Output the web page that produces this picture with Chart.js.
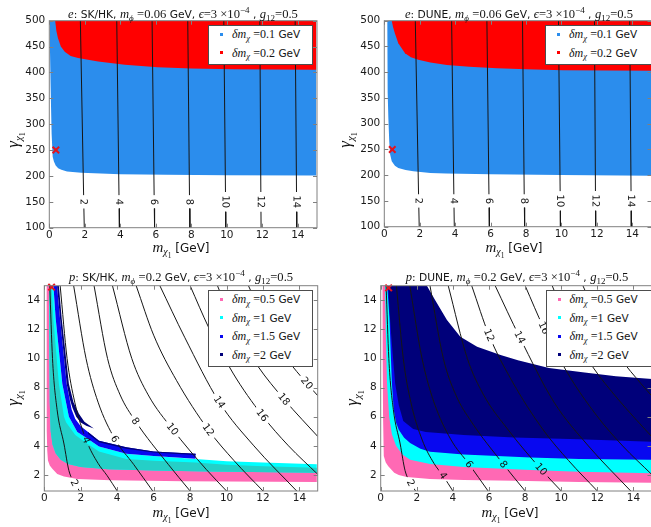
<!DOCTYPE html>
<html>
<head>
<meta charset="utf-8">
<title>Boosted DM regions</title>
<script src="https://cdn.jsdelivr.net/npm/chart.js@4.4.1/dist/chart.umd.min.js"></script>
<style>
html,body{margin:0;padding:0;background:#fff}
body{position:relative;width:651px;height:527px;overflow:hidden;font-family:"DejaVu Sans",sans-serif;color:#141414}
canvas{position:absolute;z-index:1}
.ov{position:absolute;z-index:2;white-space:nowrap}
.ttl{text-align:center;font-size:10.7px;line-height:14px}
.mi{font-family:"Liberation Serif","DejaVu Serif",serif;font-style:italic;font-size:12.6px}
.mr{font-family:"Liberation Serif","DejaVu Serif",serif;font-size:12.6px}
.sb{font-size:9px;position:relative;top:3px}
.sp{font-size:9px;position:relative;top:-5px}
.ss{font-size:7.5px;position:relative;top:5.5px}
.lg{background:#fff;border:1px solid #4d4d4d;box-sizing:border-box}
.li{position:absolute;left:23px;height:16px;line-height:16px;font-size:10.5px;white-space:nowrap}
.li .mi,.li .mr{font-size:12px}
.li .sb{font-size:8.5px;top:2.5px}
.mk{position:absolute;left:11px;width:3px;height:3px}
.xt{font-size:12px;line-height:16px;transform:translateX(-50%)}
.xt .mi{font-size:15px}
.xt .sb{font-size:10px}
.yt{font-size:12px;line-height:18px;transform:translate(-50%,-50%) rotate(-90deg)}
.yt .mi{font-size:17px}
.yt .sb{font-size:11px;top:3.5px}
.yt .ss{font-size:8px;top:6.5px}
</style>
</head>
<body>
<canvas id="cTL" width="330" height="262" style="left:0px;top:0px"></canvas>
<canvas id="cTR" width="340" height="262" style="left:330px;top:0px"></canvas>
<canvas id="cBL" width="330" height="262" style="left:0px;top:265px"></canvas>
<canvas id="cBR" width="340" height="262" style="left:330px;top:265px"></canvas>

<div class="ov ttl" style="left:49px;top:6.5px;width:268px"><span class="mi">e</span>: SK/HK, <span class="mi">m</span><span class="mi sb">ϕ</span> <span class="mr">=0.06</span> GeV, <span class="mi">ϵ</span><span class="mr">=3 ×10</span><span class="mr sp">−4</span> , <span class="mi">g</span><span class="mr sb">12</span><span class="mr">=0.5</span></div>
<div class="ov ttl" style="left:384px;top:6.5px;width:270px"><span class="mi">e</span>: DUNE, <span class="mi">m</span><span class="mi sb">ϕ</span> <span class="mr">=0.06</span> GeV, <span class="mi">ϵ</span><span class="mr">=3 ×10</span><span class="mr sp">−4</span> , <span class="mi">g</span><span class="mr sb">12</span><span class="mr">=0.5</span></div>
<div class="ov ttl" style="left:44px;top:270px;width:274px"><span class="mi">p</span>: SK/HK, <span class="mi">m</span><span class="mi sb">ϕ</span> <span class="mr">=0.2</span> GeV, <span class="mi">ϵ</span><span class="mr">=3 ×10</span><span class="mr sp">−4</span> , <span class="mi">g</span><span class="mr sb">12</span><span class="mr">=0.5</span></div>
<div class="ov ttl" style="left:381px;top:270px;width:272px"><span class="mi">p</span>: DUNE, <span class="mi">m</span><span class="mi sb">ϕ</span> <span class="mr">=0.2</span> GeV, <span class="mi">ϵ</span><span class="mr">=3 ×10</span><span class="mr sp">−4</span> , <span class="mi">g</span><span class="mr sb">12</span><span class="mr">=0.5</span></div>

<div class="ov xt" style="left:181px;top:239px"><span class="mi">m</span><span class="mi sb">χ</span><span class="mr ss">1</span> [GeV]</div>
<div class="ov xt" style="left:514px;top:239px"><span class="mi">m</span><span class="mi sb">χ</span><span class="mr ss">1</span> [GeV]</div>
<div class="ov xt" style="left:181px;top:504px"><span class="mi">m</span><span class="mi sb">χ</span><span class="mr ss">1</span> [GeV]</div>
<div class="ov xt" style="left:510px;top:504px"><span class="mi">m</span><span class="mi sb">χ</span><span class="mr ss">1</span> [GeV]</div>

<div class="ov yt" style="left:13.5px;top:140px"><span class="mi">γ</span><span class="mi sb">χ</span><span class="mr ss">1</span></div>
<div class="ov yt" style="left:346px;top:140px"><span class="mi">γ</span><span class="mi sb">χ</span><span class="mr ss">1</span></div>
<div class="ov yt" style="left:14px;top:398px"><span class="mi">γ</span><span class="mi sb">χ</span><span class="mr ss">1</span></div>
<div class="ov yt" style="left:353px;top:398px"><span class="mi">γ</span><span class="mi sb">χ</span><span class="mr ss">1</span></div>

<script>
// ---------------- axis ticks ----------------
const eXTicks = [0, 2, 4, 6, 8, 10, 12, 14];
const eYTicks = [100, 150, 200, 250, 300, 350, 400, 450, 500];
const pXTicks = [0, 2, 4, 6, 8, 10, 12, 14];
const pYTicks = [2, 4, 6, 8, 10, 12, 14];

// ---------------- electron panels: regions [m_chi1, gamma] ----------------
const eSkBlue = [[0.03,500],[0.04,440],[0.07,380],[0.1,330],[0.13,282],[0.19,237],[0.26,228],[0.36,220],[0.5,215],[0.68,212],[1.0,208.5],[1.8,206],[4.0,203.5],[6.6,202.5],[10.0,201.5],[15.03,201],[15.03,500]];
const eSkRed = [[0.33,500],[0.4,480],[0.49,466],[0.65,450],[0.87,440],[1.2,432],[1.62,428],[2.75,421],[4.25,415],[6.1,410],[8.0,407.5],[10.4,406],[15.03,405],[15.03,500]];
const eDuneBlue = [[0.17,500],[0.18,420],[0.2,360],[0.23,310],[0.28,265],[0.33,240],[0.42,227],[0.6,218.5],[0.79,214],[1.2,210],[1.64,207.5],[2.6,204.5],[3.5,203.5],[6.0,202],[10.0,200.5],[15.2,199],[15.2,500]];
const eDuneRed = [[0.42,500],[0.5,487],[0.6,475],[0.79,456],[1.17,437],[1.5,429],[1.92,424],[2.6,419],[3.53,414],[4.8,410.5],[6.36,407.5],[8.0,405.5],[10.1,404],[15.2,403],[15.2,500]];
const eSkMark = [[0.37,250]];
const eDuneMark = [[0.45,250]];

// electron contours
const eLevels = [2, 4, 6, 8, 10, 12, 14];
const eC2  = [[1.75,500],[1.94,150],[1.97,100]];
const eC4  = [[3.8,500],[3.93,150],[3.95,100]];
const eC6  = [[5.79,500],[5.91,150],[5.93,100]];
const eC8  = [[7.8,500],[7.9,150],[7.92,100]];
const eC10 = [[9.83,500],[9.93,150],[9.94,100]];
const eC12 = [[11.86,500],[11.92,150],[11.93,100]];
const eC14 = [[13.85,500],[13.93,150],[13.94,100]];
const eLabelPos = [[1.94,150],[3.93,150],[5.91,150],[7.9,150],[9.93,150],[11.92,150],[13.93,150]];
const eLegendVals = ['0.1', '0.2'];

// ---------------- proton panels: regions ----------------
const pSkPink = [[0.13,15],[0.13,8],[0.14,5],[0.16,3.7],[0.2,3.0],[0.3,2.65],[0.44,2.42],[0.71,2.07],[1.08,1.89],[1.81,1.73],[3.63,1.63],[7.65,1.57],[14.95,1.52],[14.95,2.35],[8,2.45],[4.5,2.6],[3,2.75],[2,2.95],[1.3,3.25],[0.9,3.6],[0.6,4.3],[0.45,5.5],[0.38,8],[0.33,12],[0.3,15]];
const pSkCyan = [[0.26,15],[0.29,10],[0.31,7],[0.35,5],[0.45,4.1],[0.62,3.5],[0.9,3.05],[1.3,2.75],[2,2.55],[3.5,2.4],[6,2.3],[9,2.24],[14.95,2.16],[14.95,2.74],[12,2.85],[10,2.95],[8.3,3.1],[6,3.3],[4.5,3.45],[3.0,3.95],[2.3,4.55],[1.81,4.95],[1.35,6.0],[0.99,8.25],[0.62,12.8],[0.5,15]];
const pSkTeal = [[0.26,15],[0.29,10],[0.31,7],[0.35,5],[0.45,4.1],[0.62,3.5],[0.9,3.05],[1.3,2.75],[2,2.55],[3.5,2.4],[6,2.3],[9,2.24],[14.95,2.16],[14.95,2.5],[12,2.6],[10,2.7],[8.3,2.85],[6,2.98],[4.5,3.1],[3.0,3.62],[2.3,4.2],[1.7,4.75],[1.2,5.6],[1.08,6.0],[0.8,8.25],[0.49,12.8],[0.4,15]];
const pSkBlue = [[0.5,15],[0.62,12.8],[0.99,8.25],[1.35,6.0],[1.81,4.95],[2.3,4.55],[3.0,3.95],[4.5,3.45],[6,3.3],[8.3,3.12],[8.3,3.45],[6,3.62],[4.5,3.9],[3.0,4.35],[2.4,4.95],[2.0,5.35],[1.7,5.85],[1.5,6.5],[1.23,8.25],[0.86,12.8],[0.7,15]];
const pSkNavy = [[0.65,15],[0.8,15],[0.95,12.8],[1.35,8.25],[1.6,7.0],[1.9,6.2],[2.2,5.65],[2.72,5.2],[2.3,5.38],[2.0,5.6],[1.75,6.0],[1.55,6.6],[1.4,7.2],[1.23,8.25],[0.86,12.8],[0.7,15]];
const pSkNavyEdge = [[2.4,4.95],[3.0,4.35],[4.5,3.9],[6,3.62],[8.3,3.45],[8.3,3.37],[6,3.54],[4.5,3.8],[3.0,4.24],[2.4,4.82]];
const pDunePink = [[0.1,15],[0.11,10],[0.13,6],[0.16,4.2],[0.18,3.3],[0.28,2.85],[0.42,2.6],[0.75,2.15],[1.0,2.0],[1.44,1.86],[2.73,1.72],[4.6,1.65],[7.4,1.6],[11,1.52],[15.2,1.46],[15.2,2.6],[4,3.0],[1.2,3.6],[0.55,6],[0.4,15]];
const pDuneCyan = [[0.24,15],[0.28,12],[0.35,8.3],[0.47,6.0],[0.62,4.8],[0.85,4.0],[1.2,3.4],[1.63,3.05],[2.73,2.75],[4.6,2.55],[8.3,2.34],[11,2.22],[15.2,2.12],[15.2,3.5],[4,3.9],[1.5,4.8],[0.9,7.5],[0.6,15]];
const pDuneBlue = [[0.36,15],[0.48,12.9],[0.62,8.3],[0.72,6.5],[0.85,5.6],[1.0,5.1],[1.3,4.55],[1.63,4.2],[2.2,3.8],[2.73,3.6],[4.6,3.4],[8.3,3.2],[11,3.1],[15.2,3.04],[15.2,5.0],[4,5.5],[1.5,7],[0.8,15]];
const pDuneNavy = [[0.42,15],[2.56,15],[3.02,14],[3.67,12.64],[4.41,11.5],[5.34,10.8],[6.64,10.24],[7.6,9.88],[9.32,9.35],[11.18,9.05],[13.03,8.78],[15.2,8.58],[15.2,4.28],[11,4.45],[7.4,4.58],[4.6,4.75],[2.5,4.95],[1.8,5.15],[1.25,5.7],[1.0,6.8],[0.8,8.3],[0.62,11],[0.5,13]];
const pSkMark = [[0.4,14.9]];
const pDuneMark = [[0.44,14.85]];

// proton contours
const pLevels = [2, 4, 6, 8, 10, 12, 14, 16, 18, 20];
const pC2  = [[0.3,15],[0.45,10],[0.7,6.5],[1.08,4.13],[1.35,2.3],[1.66,1.45],[1.93,0.9]];
const pC4  = [[0.87,15],[1.25,10],[1.67,7],[2.3,4.4],[2.95,2.8],[3.45,1.95],[4.0,0.9]];
const pC6  = [[1.61,15],[2.29,10],[2.95,7],[3.87,4.47],[4.9,2.73],[5.95,0.9]];
const pC8  = [[2.73,15],[3.47,10],[4.16,7.5],[5.0,5.7],[6.8,2.73],[8.0,0.9]];
const pC10 = [[3.74,15],[4.8,10],[5.7,7.5],[7.03,5.15],[8.88,2.39],[10.0,0.9]];
const pC12 = [[5.04,15],[6.0,11.6],[7.25,8.5],[9.0,5.1],[10.4,3.0],[12.0,0.9]];
const pC14 = [[6.34,15],[7.7,11.46],[9.6,7.0],[11.5,4.0],[13.85,0.9]];
const pC16 = [[8.0,15],[9.03,12.1],[10.35,9.0],[11.95,6.1],[13.4,4.0],[15.0,2.05]];
const pC18 = [[9.5,15],[10.5,12.0],[11.7,9.5],[13.15,7.2],[14.15,5.8],[15.0,4.65]];
const pC20 = [[11.2,15],[12.2,12.3],[13.3,10.0],[14.4,8.3],[15.0,7.45]];
const pSkLabelLevels = [2, 4, 6, 8, 10, 12, 14, 16, 18, 20];
const pSkLabelPos = [[1.66,1.45],[2.3,4.4],[3.87,4.47],[5.0,5.7],[7.03,5.15],[9.0,5.1],[9.6,7.0],[11.95,6.1],[13.15,7.2],[14.4,8.3]];
const pDuneLabelLevels = [2, 4, 6, 8, 10, 12, 14, 16];
const pDuneLabelPos = [[1.66,1.45],[3.45,1.95],[4.9,2.73],[6.8,2.73],[8.88,2.39],[6.0,11.6],[7.7,11.46],[9.03,12.1]];
const pLegendVals = ['0.5', '1', '1.5', '2'];

// ---------------- styles ----------------
const C_EBLUE = '#2b8ded', C_RED = '#ff0000';
const C_PINK = '#ff69b4', C_CYAN = '#00ffff', C_TEAL = '#25cfc7', C_BLUE = '#0808f0', C_NAVY = '#00007a';
const AX_FONT = {family: 'DejaVu Sans', size: 10.5};
const LBL_FONT = '10px "DejaVu Sans"';

const eLines = [eC2, eC4, eC6, eC8, eC10, eC12, eC14];
const pLines = [pC2, pC4, pC6, pC8, pC10, pC12, pC14, pC16, pC18, pC20];

function P(a) { return a.map(([x, y]) => ({x, y})); }
function region(a, color, order) {
  return {data: P(a), backgroundColor: color, borderColor: 'rgba(0,0,0,0)', borderWidth: 0,
          fill: 'shape', pointRadius: 0, tension: 0, order};
}
function contour(a, smooth) {
  return {data: P(a), borderColor: '#161616', borderWidth: 1, backgroundColor: 'rgba(0,0,0,0)',
          fill: false, pointRadius: 0, tension: 0, cubicInterpolationMode: smooth ? 'monotone' : 'default',
          isContour: true, order: 1};
}
function marker(a) {
  return {data: P(a), showLine: false, pointStyle: 'crossRot', pointRadius: 4.6, pointHoverRadius: 4.6,
          pointBorderWidth: 2, pointBorderColor: '#e5131b', pointBackgroundColor: 'rgba(0,0,0,0)',
          borderColor: '#e5131b', clip: false, order: 0};
}

function decor(c) {
  let labs = [];
  return {
    id: 'decor',
    beforeDatasetsDraw(ch) {
      const xs = ch.scales.x, ys = ch.scales.y, ctx = ch.ctx;
      ctx.save(); ctx.font = LBL_FONT;
      labs = c.labelLevels.map((lev, i) => {
        const line = c.lines[c.levels.indexOf(lev)];
        const px = xs.getPixelForValue(c.labelPos[i][0]), py = ys.getPixelForValue(c.labelPos[i][1]);
        const pp = line.map(q => [xs.getPixelForValue(q[0]), ys.getPixelForValue(q[1])]);
        let j = 0, best = Infinity;
        pp.forEach((q, k) => { const d = (q[0]-px)**2 + (q[1]-py)**2; if (d < best) { best = d; j = k; } });
        const A = pp[Math.max(j-1, 0)], B = pp[Math.min(j+1, pp.length-1)];
        let ang = Math.atan2(B[1]-A[1], B[0]-A[0]);
        if (ang > Math.PI/2) ang -= Math.PI;
        if (ang < -Math.PI/2) ang += Math.PI;
        const t = String(lev);
        return {px, py, ang, t, w: ctx.measureText(t).width + 7, h: 11};
      });
      ctx.restore();
    },
    beforeDatasetDraw(ch, args) {
      if (!ch.data.datasets[args.index].isContour) return;
      const ctx = ch.ctx, ar = ch.chartArea;
      ctx.save();
      ctx.beginPath();
      ctx.rect(ar.left-20, ar.top-20, ar.right-ar.left+40, ar.bottom-ar.top+40);
      labs.forEach(l => { ctx.save(); ctx.translate(l.px, l.py); ctx.rotate(l.ang); ctx.rect(-l.w/2, -l.h/2, l.w, l.h); ctx.restore(); });
      ctx.clip('evenodd');
    },
    afterDatasetDraw(ch, args) {
      if (ch.data.datasets[args.index].isContour) ch.ctx.restore();
    },
    afterDatasetsDraw(ch) {
      const ctx = ch.ctx, ar = ch.chartArea, xs = ch.scales.x, ys = ch.scales.y;
      ctx.save();
      ctx.fillStyle = '#141414'; ctx.font = LBL_FONT; ctx.textAlign = 'center'; ctx.textBaseline = 'middle';
      labs.forEach(l => { ctx.save(); ctx.translate(l.px, l.py); ctx.rotate(l.ang); ctx.fillText(l.t, 0, 0.5); ctx.restore(); });
      ctx.strokeStyle = '#808080'; ctx.lineWidth = 1;
      ctx.beginPath();
      c.xTicks.forEach(v => { const x = Math.round(xs.getPixelForValue(v)) + 0.5;
        ctx.moveTo(x, ar.bottom); ctx.lineTo(x, ar.bottom-4); ctx.moveTo(x, ar.top); ctx.lineTo(x, ar.top+4); });
      c.yTicks.forEach(v => { const y = Math.round(ys.getPixelForValue(v)) + 0.5;
        ctx.moveTo(ar.left, y); ctx.lineTo(ar.left+4, y); ctx.moveTo(ar.right, y); ctx.lineTo(ar.right-4, y); });
      ctx.stroke();
      ctx.strokeRect(ar.left, ar.top, ar.right-ar.left, ar.bottom-ar.top);
      ctx.restore();
    }
  };
}

function makePanel(c) {
  const cv = document.getElementById(c.id);
  const a = c.area;
  new Chart(cv, {
    type: 'line',
    data: {datasets: c.datasets},
    options: {
      responsive: false, animation: false, devicePixelRatio: 1, events: [],
      layout: {padding: {left: 0, top: a.t, right: c.W - a.r, bottom: 0}},
      plugins: {legend: {display: false}, tooltip: {enabled: false}, title: {display: false}},
      scales: {
        x: {type: 'linear', min: 0, max: c.xMax, grid: {display: false, drawTicks: false}, border: {display: false},
            ticks: {font: AX_FONT, color: '#1a1a1a', padding: 1, maxRotation: 0, autoSkip: false},
            afterBuildTicks: s => { s.ticks = c.xTicks.map(v => ({value: v})); },
            afterFit: s => { s.height = c.H - a.b; }},
        y: {type: 'linear', min: c.yMin, max: c.yMax, grid: {display: false, drawTicks: false}, border: {display: false},
            ticks: {font: AX_FONT, color: '#1a1a1a', padding: 4, autoSkip: false},
            afterBuildTicks: s => { s.ticks = c.yTicks.map(v => ({value: v})); },
            afterFit: s => { s.width = a.l; }}
      }
    },
    plugins: [decor(c)]
  });
}

function legend(left, top, width, colors, vals) {
  const d = document.createElement('div');
  d.className = 'ov lg';
  d.style.left = left + 'px'; d.style.top = top + 'px';
  d.style.width = width + 'px'; d.style.height = (vals.length * 18.4 + 3.2) + 'px';
  vals.forEach((v, k) => {
    const mk = document.createElement('span');
    mk.className = 'mk'; mk.style.background = colors[k]; mk.style.top = (6.8 + 18.4 * k) + 'px';
    d.appendChild(mk);
    const li = document.createElement('div');
    li.className = 'li'; li.style.top = (0.3 + 18.4 * k) + 'px';
    li.innerHTML = '<span class="mi">δm</span><span class="mi sb">χ</span> <span class="mr">=' + v + '</span> GeV';
    d.appendChild(li);
  });
  document.body.appendChild(d);
}

const eContourSets = () => eLines.map(l => contour(l, false));
const pContourSets = () => pLines.map(l => contour(l, true));

makePanel({id: 'cTL', W: 330, H: 262, area: {l: 49.3, t: 20.7, r: 317, b: 227.7}, xMax: 15.08, yMin: 100, yMax: 500,
  xTicks: eXTicks, yTicks: eYTicks, lines: eLines, levels: eLevels, labelLevels: eLevels, labelPos: eLabelPos,
  datasets: [marker(eSkMark), ...eContourSets(), region(eSkRed, C_RED, 3), region(eSkBlue, C_EBLUE, 4)]});
makePanel({id: 'cTR', W: 340, H: 262, area: {l: 54.3, t: 20.7, r: 321.5, b: 226.7}, xMax: 15.08, yMin: 100, yMax: 500,
  xTicks: eXTicks, yTicks: eYTicks, lines: eLines, levels: eLevels, labelLevels: eLevels, labelPos: eLabelPos,
  datasets: [marker(eDuneMark), ...eContourSets(), region(eDuneRed, C_RED, 3), region(eDuneBlue, C_EBLUE, 4)]});
makePanel({id: 'cBL', W: 330, H: 262, area: {l: 44.3, t: 20.7, r: 317.7, b: 226}, xMax: 15, yMin: 0.9, yMax: 15,
  xTicks: pXTicks, yTicks: pYTicks, lines: pLines, levels: pLevels, labelLevels: pSkLabelLevels, labelPos: pSkLabelPos,
  datasets: [marker(pSkMark), ...pContourSets(), region(pSkNavy, C_NAVY, 2), region(pSkNavyEdge, C_NAVY, 2),
             region(pSkBlue, C_BLUE, 3), region(pSkTeal, C_TEAL, 4), region(pSkCyan, C_CYAN, 5), region(pSkPink, C_PINK, 6)]});
makePanel({id: 'cBR', W: 340, H: 262, area: {l: 50.7, t: 20.7, r: 321.5, b: 226}, xMax: 15, yMin: 0.9, yMax: 15,
  xTicks: pXTicks, yTicks: pYTicks, lines: pLines, levels: pLevels, labelLevels: pDuneLabelLevels, labelPos: pDuneLabelPos,
  datasets: [marker(pDuneMark), ...pContourSets(), region(pDuneNavy, C_NAVY, 2), region(pDuneBlue, C_BLUE, 3),
             region(pDuneCyan, C_CYAN, 5), region(pDunePink, C_PINK, 6)]});

legend(208, 25, 105, [C_EBLUE, C_RED], eLegendVals);
legend(545, 25, 115, [C_EBLUE, C_RED], eLegendVals);
legend(208, 290, 105, [C_PINK, C_CYAN, C_BLUE, C_NAVY], pLegendVals);
legend(545.5, 290, 115, [C_PINK, C_CYAN, C_BLUE, C_NAVY], pLegendVals);
</script>
</body>
</html>
